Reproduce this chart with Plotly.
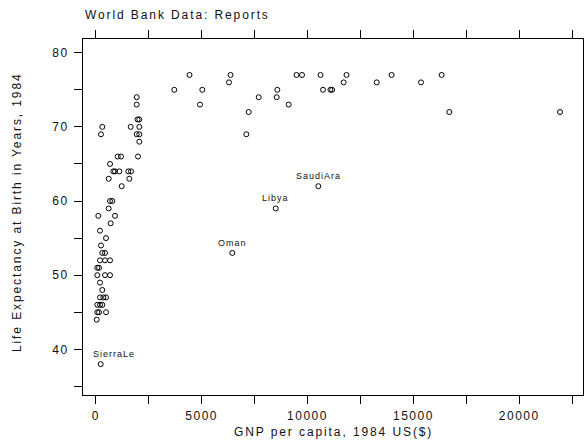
import plotly.graph_objects as go

# GNP per capita (1984 US$) and life expectancy (years)
gnp = [
    1931, 1931, 1970, 2050, 307, 1648, 2055, 245, 1931, 2055, 2055,
    1034, 1190, 1993, 671, 827, 907, 1110, 1535, 1663, 609, 1582, 1223,
    671, 780, 609, 118, 907, 702, 198, 482, 245, 307, 434, 198, 434, 671,
    71, 151, 71, 434, 671, 198, 307, 198, 354, 482, 71, 198, 307, 71, 151,
    482, 42,
    3707, 5030, 6290, 8573, 7693, 8543, 10731, 11080, 11160, 11708, 4921,
    9110, 7221, 7110, 13267, 15360, 16697, 21925,
    4425, 6362, 9479, 9739, 10613, 11841, 13971, 16333,
]
life = [
    74, 73, 71, 71, 70, 70, 70, 69, 69, 69, 68,
    66, 66, 66, 65, 64, 64, 64, 64, 64, 63, 63, 62,
    60, 60, 59, 58, 58, 57, 56, 55, 54, 53, 53, 52, 52, 52,
    51, 51, 50, 50, 50, 49, 48, 47, 47, 47, 46, 46, 46, 45, 45,
    45, 44,
    75, 75, 76, 75, 74, 74, 75, 75, 75, 76, 73,
    73, 72, 69, 76, 76, 72, 72,
    77, 77, 77, 77, 77, 77, 77, 77,
]

label_names = ["SierraLe", "Oman", "Libya", "SaudiAra"]
label_gnp = [231, 6447, 8497, 10510]
label_life = [38, 53, 59, 62]
label_xshift = [13, 0, 0, 0]

x_tickvals = [0, 2500, 5000, 7500, 10000, 12500, 15000, 17500, 20000, 22500]
x_ticktext = ["0", "", "5000", "", "10000", "", "15000", "", "20000", ""]
y_tickvals = [35, 40, 45, 50, 55, 60, 65, 70, 75, 80]
y_ticktext = ["", "40", "", "50", "", "60", "", "70", "", "80"]

title_text = "World Bank Data: Reports"
x_title = "GNP per capita, 1984 US($)"
y_title = "Life Expectancy at Birth in Years, 1984"

FONT = "Liberation Sans, Arial, Helvetica, sans-serif"
TXT = "#111111"


def spaced(t, ls):
    if t == "":
        return ""
    return "<span style='letter-spacing:%spx'>%s</span>" % (ls, t)


all_x = gnp + label_gnp
all_y = life + label_life

fig = go.Figure()
fig.add_trace(go.Scatter(
    x=all_x, y=all_y, mode="markers",
    marker=dict(symbol="circle-open", size=5, color="black",
                line=dict(width=1, color="black")),
    hoverinfo="x+y", showlegend=False,
))

annotations = []
for n, gx, gy, xs in zip(label_names, label_gnp, label_life, label_xshift):
    annotations.append(dict(
        x=gx, y=gy, xref="x", yref="y", text=spaced(n, 1),
        showarrow=False, xanchor="center", yanchor="middle",
        yshift=10, xshift=xs,
        font=dict(family=FONT, size=9, color=TXT),
    ))

annotations.append(dict(
    x=0, y=1.067, xref="paper", yref="paper", text=spaced(title_text, 1.9),
    showarrow=False, xanchor="left", yanchor="middle",
    font=dict(family=FONT, size=12, color=TXT),
))
annotations.append(dict(
    x=0.5, y=-0.104, xref="paper", yref="paper", text=spaced(x_title, 1.9),
    showarrow=False, xanchor="center", yanchor="middle",
    font=dict(family=FONT, size=12, color=TXT),
))
annotations.append(dict(
    x=-0.132, y=0.514, xref="paper", yref="paper", text=spaced(y_title, 1.9),
    showarrow=False, xanchor="center", yanchor="middle", textangle=-90,
    font=dict(family=FONT, size=12, color=TXT),
))

fig.update_layout(
    width=585, height=441,
    margin=dict(l=83, r=2, t=39, b=46, pad=0),
    paper_bgcolor="white", plot_bgcolor="white",
    font=dict(family=FONT, size=12, color=TXT),
    annotations=annotations,
    xaxis=dict(
        range=[-605, 23010], tickmode="array", tickvals=x_tickvals,
        ticktext=[spaced(t, 1.5) for t in x_ticktext],
        ticks="outside", ticklen=8, tickwidth=1, tickcolor="black",
        showline=True, linecolor="black", linewidth=1, mirror="ticks",
        showgrid=False, zeroline=False, ticklabelstandoff=2,
        tickfont=dict(family=FONT, size=12, color=TXT),
    ),
    yaxis=dict(
        range=[33.84, 81.85], tickmode="array", tickvals=y_tickvals,
        ticktext=[spaced(t, 1.5) for t in y_ticktext],
        ticks="outside", ticklen=8, tickwidth=1, tickcolor="black",
        showline=True, linecolor="black", linewidth=1, mirror=True,
        showgrid=False, zeroline=False, ticklabelstandoff=3,
        tickfont=dict(family=FONT, size=12, color=TXT),
    ),
)

fig.write_html("out.html")
